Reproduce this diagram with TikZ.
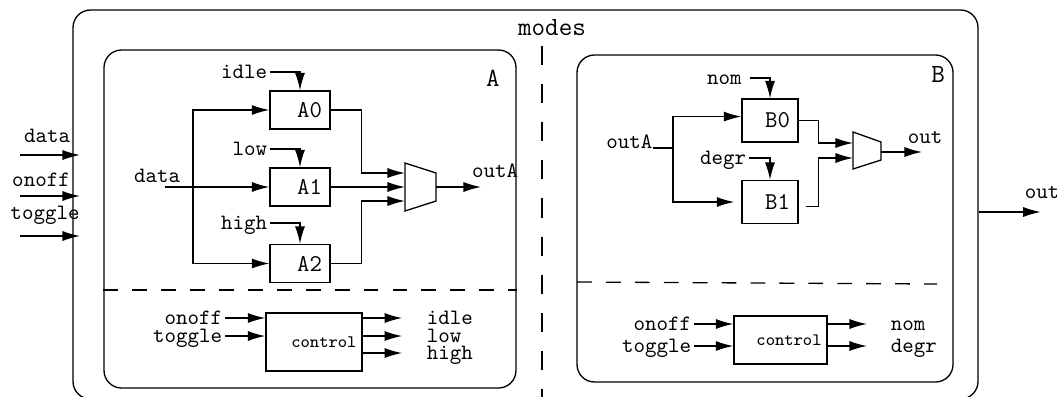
\documentclass[tikz,border=0pt]{standalone}
\usepackage{tikz}
\usetikzlibrary{arrows.meta,positioning,fit,calc}

\begin{document}
\begin{tikzpicture}[
      x=0.4565pt, y=-0.4565pt,
      >={Latex[length=8pt,width=4.6pt]},
      line width=0.6pt,
      frame/.style={draw, rounded corners=8pt, inner sep=0pt},
      blk/.style={draw, minimum height=17.4pt, text width=20pt, inner xsep=3.7pt, align=right, font=\ttfamily\fontsize{11}{13}\selectfont},
      ctrl/.style={draw, inner xsep=2.5pt, align=right, font=\ttfamily\footnotesize},
      lab/.style={inner sep=1pt, font=\ttfamily},
      sig/.style={inner xsep=1pt, inner ysep=0pt, font=\ttfamily, text height=6pt, text depth=0pt},
      sep/.style={dash pattern=on 6.8pt off 6.4pt},
      vsep/.style={line width=0.5pt, dash pattern=on 8.7pt off 8.7pt}]
    \useasboundingbox (0,0) rectangle (1057,396);
    \node[frame, fit={(73,10) (978,399)}] (modes) {};
    \node[frame, fit={(104,50) (516,388)}] (boxA) {};
    \node[frame, fit={(577,55) (953,382)}] (boxB) {};
    \node[font=\ttfamily\large] (modesl) at (552,28) {modes};
    \node[lab, font=\ttfamily\large] (labA) at (493,78) {A};
    \node[lab, font=\ttfamily\large] (labB) at (938,74) {B};
    \draw[vsep] (542,46) -- (542,399);
    \draw[sep] (boxA.west |- 0,290) -- (boxA.east |- 0,290);
    \draw[sep] (577,282) -- (937,284);

    \node[lab] (dataL) at (47,136) {data};
    \node[lab] (onoffL) at (41,180) {onoff};
    \node[lab] (toggleL) at (45,215) {toggle};
    \coordinate (dataIn) at (20,155);
    \coordinate (onoffIn) at (20,196);
    \coordinate (toggleIn) at (20,236);
    \draw[->] (dataIn) -- ++(60,0);
    \draw[->] (onoffIn) -- ++(60,0);
    \draw[->] (toggleIn) -- ++(60,0);
    \coordinate (outM) at (modes.east |- 0,212);
    \draw[->] (outM) -- ++(62,0);
    \node[lab] (outL) at (1042,192) {out};

    \node[blk] (a0) at (300,110) {A0};
    \node[blk] (a1) at (300,187) {A1};
    \node[blk] (a2) at (300,263.5) {A2};
    \node[sig, anchor=east] (idle) at (270,72) {idle};
    \node[sig, anchor=east] (low) at (270,149) {low};
    \node[sig, anchor=east] (high) at (270,223) {high};
    \draw[->] (idle.east) -| (a0.north);
    \draw[->] (low.east) -| (a1.north);
    \draw[->] (high.east) -| (a2.north);
    \node[lab] (dataA) at (157,176) {data};
    \coordinate (dataAin) at (165,187);
    \coordinate (fanA) at (193,187);
    \draw[->] (dataAin) -- (a1.west);
    \draw[->] (fanA) |- (a0.west);
    \draw[->] (fanA) |- (a2.west);
    \draw (405,163) -- (436,173) -- (436,201) -- (405,211) -- cycle;
    \coordinate (muxA1) at (405,173);
    \coordinate (muxA2) at (405,187);
    \coordinate (muxA3) at (405,201);
    \coordinate (muxAo) at (436,187);
    \draw[->] (a0.east) -- ++(31,0) |- (muxA1);
    \draw[->] (a1.east) -- (muxA2);
    \draw[->] (a2.east) -- ++(31,0) |- (muxA3);
    \draw[->] (muxAo) -- ++(45,0);
    \node[lab] (outA) at (495,171) {outA};

    \node[ctrl, text width=38.8pt, minimum height=26.5pt] (ctrlA) at (314,342) {control};
    \node[sig, anchor=east] (onA) at (225,318) {onoff};
    \node[sig, anchor=east] (togA) at (225,336) {toggle};
    \draw[->] (onA.east) -- (onA.east -| ctrlA.west);
    \draw[->] (togA.east) -- (togA.east -| ctrlA.west);
    \node[sig, anchor=west] (idleA) at (424,318) {idle};
    \node[sig, anchor=west] (lowA) at (424,336) {low};
    \node[sig, anchor=west] (highA) at (424,353) {high};
    \draw[->, shorten >=10pt] (idleA.west -| ctrlA.east) -- (idleA.west);
    \draw[->, shorten >=10pt] (lowA.west -| ctrlA.east) -- (lowA.west);
    \draw[->, shorten >=10pt] (highA.west -| ctrlA.east) -- (highA.west);

    \node[blk, text width=18.2pt, minimum height=19.6pt] (b0) at (770,120.5) {B0};
    \node[blk, text width=18.2pt, minimum height=19.6pt] (b1) at (770,202) {B1};
    \node[sig, anchor=east, inner xsep=3.5pt] (nom) at (750,78) {nom};
    \node[sig, anchor=east] (degr) at (749,158) {degr};
    \draw[->] (nom.east) -| (b0.north);
    \draw[->] (degr.east) -| (b1.north);
    \node[lab, anchor=base east, inner sep=0pt] (outAB) at (653,148) {outA};
    \coordinate (fanB) at (673,148);
    \draw (outAB.base east) -- (fanB);
    \draw[->] (fanB) |- ([yshift=1.8pt]b0.west);
    \draw[->, shorten >=3.2pt] (fanB) |- (b1.west);
    \draw (853,132) -- (881,142) -- (881,160) -- (853,169) -- cycle;
    \coordinate (muxB1) at (853,143);
    \coordinate (muxB2) at (853,158);
    \coordinate (muxBo) at (881,152);
    \draw[->] (b0.east) -- ++(20,0) |- (muxB1);
    \draw[->] ([xshift=3.2pt,yshift=-2.2pt]b1.east) -- ++(13,0) |- (muxB2);
    \draw[->] (muxBo) -- ++(41,0);
    \node[lab] (outB) at (925,137) {out};

    \node[ctrl, text width=37.5pt, minimum height=21.9pt] (ctrlB) at (780.5,340) {control};
    \node[sig, anchor=east] (onB) at (694,324) {onoff};
    \node[sig, anchor=east] (togB) at (694,346) {toggle};
    \draw[->] (onB.east) -- (onB.east -| ctrlB.west);
    \draw[->] (togB.east) -- (togB.east -| ctrlB.west);
    \node[sig, anchor=west] (nomB) at (888,324) {nom};
    \node[sig, anchor=west] (degrB) at (888,346) {degr};
    \draw[->, shorten >=9.6pt] (nomB.west -| ctrlB.east) -- (nomB.west);
    \draw[->, shorten >=9.6pt] (degrB.west -| ctrlB.east) -- (degrB.west);
  \end{tikzpicture}
\end{document}
